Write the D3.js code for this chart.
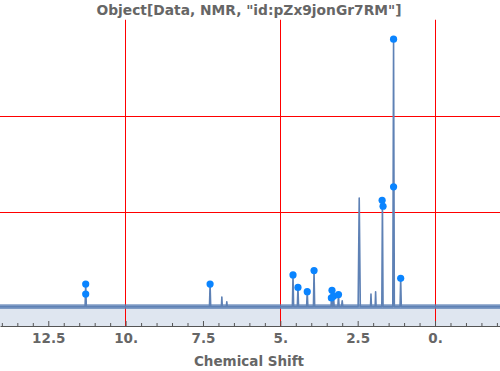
<!DOCTYPE html>
<html lang="en">
  <head>
    <meta charset="UTF-8" />
    <script src="https://d3js.org/d3.v7.min.js"></script>
    <title>NMR</title>
    <style>
      body { margin: 0; background: #fff; }
      text { font-family: 'DejaVu Sans', sans-serif; font-weight: bold; fill: #666; }
    </style>
  </head>
  <body>
    <svg id="chart" width="500" height="371"></svg>
  </body>
  <script>
    // peaks: shift (ppm), height above baseline (arb.), half width (ppm)
    const peakShift = [11.29, 7.27, 6.89, 6.73, 4.59, 4.43, 4.13, 3.91, 3.34, 3.28, 3.12, 3.0, 2.45, 2.07, 1.92, 1.70, 1.34, 1.11]
    const peakHeight = [0.235, 0.235, 0.10, 0.05, 0.33, 0.20, 0.16, 0.375, 0.17, 0.11, 0.125, 0.06, 1.13, 0.13, 0.155, 1.11, 2.785, 0.295]
    const peakHalfWidth = [0.02, 0.02, 0.015, 0.015, 0.02, 0.02, 0.02, 0.02, 0.02, 0.02, 0.02, 0.02, 0.035, 0.015, 0.015, 0.02, 0.025, 0.02]

    // picked peak markers (height above baseline)
    const markShift = [11.29, 11.29, 7.27, 4.59, 4.43, 4.13, 3.91, 3.33, 3.35, 3.28, 3.12, 1.71, 1.68, 1.34, 1.34, 1.11]
    const markHeight = [0.235, 0.13, 0.235, 0.33, 0.20, 0.155, 0.375, 0.17, 0.09, 0.107, 0.125, 1.107, 1.045, 2.785, 1.247, 0.295]

    const baseline = 0.02
    const noiseHalf = 0.025
    const xTicks = [12.5, 10, 7.5, 5, 2.5, 0]
    const gridX = [10, 5, 0]
    const gridY = [1, 2]
    const shiftRange = [14.06, -2.1]

    const svg = d3.select('#chart')
    const width = 500, height = 371
    const plotTop = 19.5, plotBottom = 326

    const x = d3.scaleLinear().domain(shiftRange).range([0, width])
    const y = d3.scaleLinear().domain([-0.182, 3.01]).range([plotBottom, plotTop])

    // spectrum points: baseline, then each peak as a narrow spike
    let spectrum = [[shiftRange[0], baseline]]
    peakShift
      .map((s, i) => ({ s: s, h: peakHeight[i], w: peakHalfWidth[i] }))
      .sort((a, b) => b.s - a.s)
      .forEach((p) => {
        spectrum.push([p.s + p.w, baseline])
        spectrum.push([p.s, baseline + p.h])
        spectrum.push([p.s - p.w, baseline])
      })
    spectrum.push([shiftRange[1], baseline])

    svg.append('defs').append('clipPath').attr('id', 'clip')
      .append('rect').attr('x', 0).attr('y', plotTop).attr('width', width).attr('height', plotBottom - plotTop)

    const plot = svg.append('g').attr('clip-path', 'url(#clip)')

    // filling to the axis
    plot.append('path')
      .datum(spectrum)
      .attr('fill', '#5e81b5')
      .attr('fill-opacity', 0.2)
      .attr('d', d3.area().x((d) => x(d[0])).y0(plotBottom).y1((d) => y(d[1])))

    // grid
    const px = (v) => Math.floor(v) + 0.5
    plot.selectAll('.gx').data(gridX).enter().append('line')
      .attr('x1', (d) => px(x(d))).attr('x2', (d) => px(x(d)))
      .attr('y1', plotTop).attr('y2', plotBottom)
      .attr('stroke', '#ff0000').attr('stroke-width', 1)
    plot.selectAll('.gy').data(gridY).enter().append('line')
      .attr('x1', 0).attr('x2', width)
      .attr('y1', (d) => px(y(d))).attr('y2', (d) => px(y(d)))
      .attr('stroke', '#ff0000').attr('stroke-width', 1)

    // baseline noise band
    plot.append('rect')
      .attr('x', 0).attr('width', width)
      .attr('y', y(baseline + noiseHalf))
      .attr('height', y(baseline - noiseHalf) - y(baseline + noiseHalf))
      .attr('fill', '#5e81b5').attr('fill-opacity', 0.75)

    plot.append('path')
      .datum(spectrum)
      .attr('fill', 'none')
      .attr('stroke', '#5e81b5')
      .attr('stroke-width', 1.6)
      .attr('stroke-linejoin', 'round')
      .attr('d', d3.line().x((d) => x(d[0])).y((d) => y(d[1])))

    // peak markers
    plot.selectAll('.mark').data(markShift).enter().append('circle')
      .attr('cx', (d) => x(d))
      .attr('cy', (d, i) => y(baseline + markHeight[i]))
      .attr('r', 3.6)
      .attr('fill', '#0a84ff')

    // axis: ticks point up into the plot
    const fmt = (d) => (Number.isInteger(d) ? d + '.' : String(d))
    const axis = svg.append('g').attr('transform', 'translate(0,' + plotBottom + ')')
      .call(d3.axisBottom(x).tickValues(xTicks).tickFormat(fmt).tickSizeInner(-5).tickSizeOuter(0).tickPadding(7))
    axis.select('.domain').attr('stroke', '#555')
    axis.selectAll('.tick line').attr('stroke', '#555')
    axis.selectAll('.tick text').attr('font-size', 13.5).attr('font-family', 'DejaVu Sans').attr('fill', '#666')

    const minor = svg.append('g').attr('transform', 'translate(0,' + plotBottom + ')')
      .call(d3.axisBottom(x).tickValues(d3.range(-2, 14.01, 0.5).filter((d) => d % 2.5 !== 0)).tickFormat('').tickSizeInner(-3).tickSizeOuter(0))
    minor.select('.domain').remove()
    minor.selectAll('.tick line').attr('stroke', '#555')

    svg.append('text')
      .attr('x', 249).attr('y', 366)
      .attr('text-anchor', 'middle')
      .attr('font-size', 13.5)
      .text('Chemical Shift')

    svg.append('text')
      .attr('x', 249).attr('y', 15)
      .attr('text-anchor', 'middle')
      .attr('font-size', 13.8)
      .text('Object[Data, NMR, "id:pZx9jonGr7RM"]')
  </script>
</html>
